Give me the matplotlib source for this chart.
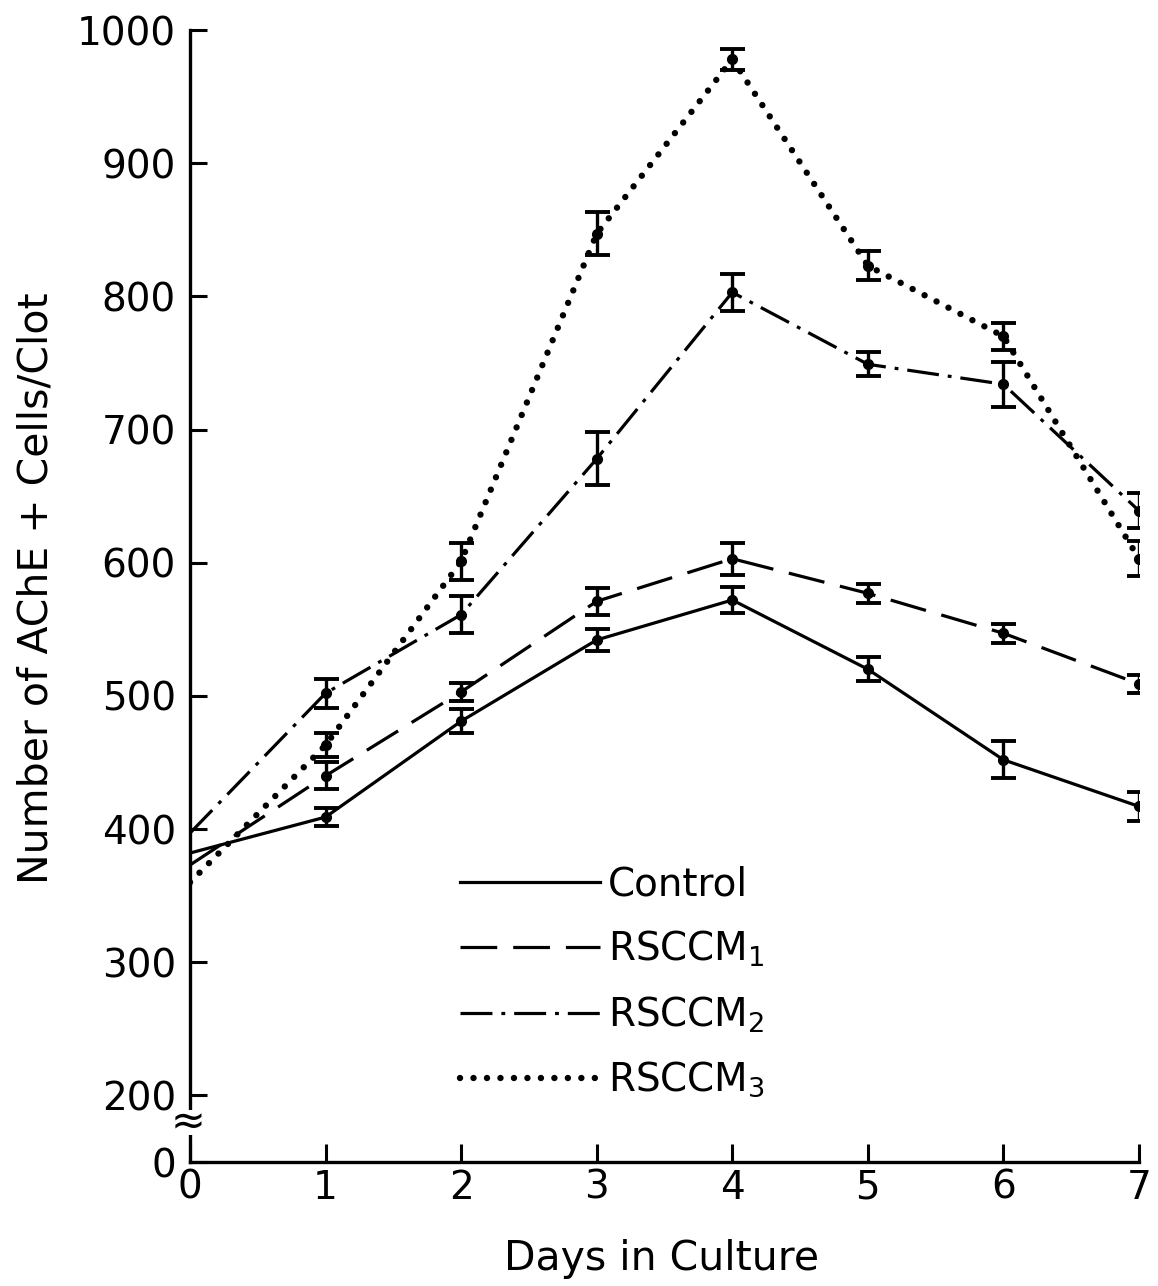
import numpy as np
import matplotlib
matplotlib.use("Agg")
import matplotlib.pyplot as plt
from matplotlib.patches import Rectangle

# ---- data ----
days = [0, 1, 2, 3, 4, 5, 6, 7]
control = [382, 409, 481, 542, 572, 520, 452, 417]
control_err = [0, 7, 9, 8, 10, 9, 14, 11]
rsccm1 = [373, 440, 503, 571, 603, 577, 547, 509]
rsccm1_err = [0, 10, 7, 10, 12, 7, 7, 7]
rsccm2 = [397, 502, 561, 678, 803, 749, 734, 639]
rsccm2_err = [0, 11, 14, 20, 14, 9, 17, 13]
rsccm3 = [360, 463, 601, 847, 978, 823, 770, 603]
rsccm3_err = [0, 9, 14, 16, 8, 11, 10, 13]
series_labels = ["Control", r"RSCCM$_1$", r"RSCCM$_2$", r"RSCCM$_3$"]
y_ticks = [0, 200, 300, 400, 500, 600, 700, 800, 900, 1000]
x_ticks = [0, 1, 2, 3, 4, 5, 6, 7]

plt.rcParams["font.family"] = ["DejaVu Sans"]
plt.rcParams["mathtext.fontset"] = "dejavusans"

fig = plt.figure(figsize=(11.58, 12.86), dpi=100)
ax = fig.add_axes([190 / 1158, 1 - 1162 / 1286, (1139 - 190) / 1158, (1162 - 30) / 1286])


# broken y axis: 0..200 compressed
def fwd(v):
    v = np.asarray(v, dtype=float)
    return np.where(v >= 200, v, 150 + v / 4.0)


def inv(u):
    u = np.asarray(u, dtype=float)
    return np.where(u >= 200, u, (u - 150) * 4.0)


ax.set_yscale("function", functions=(fwd, inv))

lw = 2.3
styles = [
    dict(linestyle="-", linewidth=lw),
    dict(linestyle=(0, (11.5, 5)), linewidth=lw),
    dict(linestyle=(0, (10, 2.8, 1.2, 2.8)), linewidth=lw),
    dict(linestyle=(0, (0.01, 2.1)), linewidth=4.6, dash_capstyle="round"),
]
all_series = [(control, control_err), (rsccm1, rsccm1_err),
              (rsccm2, rsccm2_err), (rsccm3, rsccm3_err)]

handles = []
for (vals, errs), st, lab in zip(all_series, styles, series_labels):
    (ln,) = ax.plot(days, vals, color="black", label=lab, zorder=3, **st)
    handles.append(ln)
    ax.errorbar(days[1:], vals[1:], yerr=errs[1:], fmt="o", color="black",
                markersize=7, elinewidth=2.4, capsize=9, capthick=2.8,
                zorder=4)

ax.set_xlim(0, 7)
ax.set_ylim(0, 1000)
ax.set_xticks(x_ticks)
ax.set_yticks(y_ticks)
ax.set_xticklabels([str(t) for t in x_ticks])
ax.set_yticklabels([str(t) for t in y_ticks])
ax.minorticks_off()

for s in ["top", "right"]:
    ax.spines[s].set_visible(False)
for s in ["left", "bottom"]:
    ax.spines[s].set_linewidth(2.4)

ax.tick_params(axis="y", direction="in", length=12, width=2.2, pad=10,
               labelsize=28)
ax.tick_params(axis="x", direction="in", length=13, width=2.2, pad=5,
               labelsize=28)

ax.set_xlabel("Days in Culture", fontsize=29.5)
ax.xaxis.set_label_coords(0.497, -0.068)
ax.set_ylabel("Number of AChE + Cells/Clot", fontsize=29.5)
ax.yaxis.set_label_coords(-0.141, 0.507)

# axis-break marker
ax.add_patch(Rectangle((-0.02, 0.024), 0.04, 0.022, transform=ax.transAxes,
                       facecolor="white", edgecolor="none", clip_on=False,
                       zorder=5))
ax.text(-0.002, 0.035, "≈", transform=ax.transAxes, ha="center", va="center",
        fontsize=30, zorder=6, clip_on=False)

leg = ax.legend(handles=handles, loc="upper left",
                bbox_to_anchor=(0.285, 0.262), frameon=False, fontsize=28,
                handlelength=3.6, handletextpad=0.2, labelspacing=0.65,
                borderpad=0, borderaxespad=0)

fig.savefig("out.png", dpi=100)
